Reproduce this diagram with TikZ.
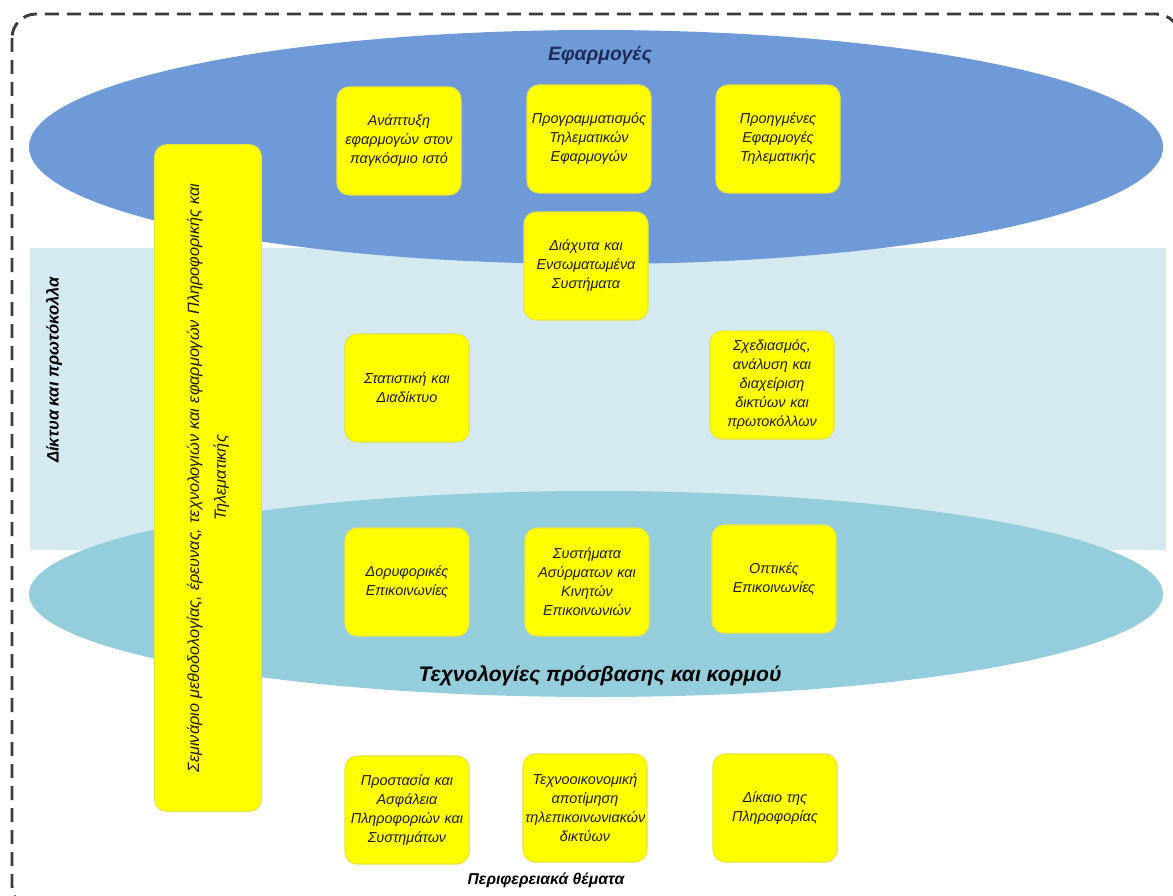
\documentclass[tikz,border=0pt]{standalone}
\usepackage{fontspec}
\setmainfont{Liberation Sans}
\usetikzlibrary{shapes.geometric}
\definecolor{topblue}{RGB}{110,155,216}
\definecolor{bandblue}{RGB}{212,234,240}
\definecolor{lowblue}{RGB}{148,206,221}
\definecolor{boxyellow}{RGB}{255,255,0}
\definecolor{boxedge}{RGB}{232,228,60}
\definecolor{navy}{RGB}{30,42,90}
\definecolor{frameclr}{RGB}{60,60,60}
\definecolor{boxtext}{RGB}{30,30,30}
\tikzset{
  ybox/.style={rectangle, rounded corners=9pt, fill=boxyellow, draw=boxedge, line width=0.8pt,
    minimum width=93pt, minimum height=81pt, text width=90pt, align=center,
    font=\fontsize{10.8}{14.25}\selectfont\itshape, text=boxtext, inner sep=1.5pt},
  layertitle/.style={font=\fontsize{14.5}{17}\selectfont\bfseries\itshape, text=black, inner sep=0pt},
  frame/.style={draw=frameclr, line width=2.2pt, dash pattern=on 10.5pt off 6pt, rounded corners=18pt}
}
\begin{document}
\begin{tikzpicture}[x=0.75pt,y=-0.75pt]
\useasboundingbox (0,0) rectangle (1173,895);
% layers
\fill[bandblue] (30,248) rectangle (1166,550);
\fill[topblue] (596,147) ellipse [x radius=567, y radius=117];
\fill[lowblue] (596,594) ellipse [x radius=567, y radius=103];
% frame
\draw[frame] (12,14) rectangle (1180,910);
% titles
\node[layertitle, text=navy] (tapp) at (600,55) {Εφαρμογές};
\node[layertitle, font=\fontsize{15.8}{18}\selectfont\bfseries\itshape] (ttech) at (600,676) {Τεχνολογίες πρόσβασης και κορμού};
\node[layertitle, font=\fontsize{11.8}{14}\selectfont\bfseries\itshape] (tper) at (546,880) {Περιφερειακά θέματα};
\node[layertitle, font=\fontsize{12.5}{15}\selectfont\bfseries\itshape, rotate=90] (tnet) at (54,370) {Δίκτυα και πρωτόκολλα};
% vertical box
\node[ybox, minimum width=500pt, minimum height=80pt, text width=470pt, rotate=90,
      font=\fontsize{12.2}{20}\selectfont\itshape] (sem) at (208,478)
  {Σεμινάριο μεθοδολογίας, έρευνας, τεχνολογιών και εφαρμογών Πληροφορικής και\\ Τηλεματικής};
% boxes
\node[ybox] (b1) at (399,141) {Ανάπτυξη\\ εφαρμογών στον\\ παγκόσμιο ιστό};
\node[ybox] (b2) at (589,139) {Προγραμματισμός\\ Τηλεματικών\\ Εφαρμογών};
\node[ybox] (b3) at (778,139) {Προηγμένες\\ Εφαρμογές\\ Τηλεματικής};
\node[ybox] (b4) at (586,266) {Διάχυτα και\\ Ενσωματωμένα\\ Συστήματα};
\node[ybox] (b5) at (407,388) {Στατιστική και\\ Διαδίκτυο};
\node[ybox] (b6) at (772,385) {Σχεδιασμός,\\ ανάλυση και\\ διαχείριση\\ δικτύων και\\ πρωτοκόλλων};
\node[ybox] (b7) at (407,582) {Δορυφορικές\\ Επικοινωνίες};
\node[ybox] (b8) at (587,582) {Συστήματα\\ Ασύρματων και\\ Κινητών\\ Επικοινωνιών};
\node[ybox] (b9) at (774,579) {Οπτικές\\ Επικοινωνίες};
\node[ybox] (b10) at (407,810) {Προστασία και\\ Ασφάλεια\\ Πληροφοριών και\\ Συστημάτων};
\node[ybox] (b11) at (585,808) {Τεχνοοικονομική\\ αποτίμηση\\ τηλεπικοινωνιακών\\ δικτύων};
\node[ybox] (b12) at (775,808) {Δίκαιο της\\ Πληροφορίας};
\end{tikzpicture}
\end{document}
